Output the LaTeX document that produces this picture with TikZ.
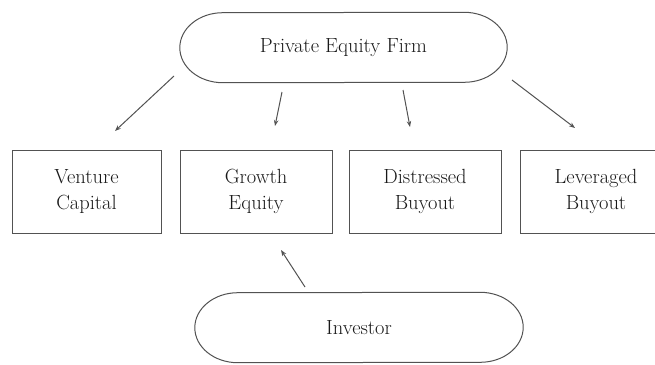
\documentclass[tikz,border=0pt]{standalone}
\usetikzlibrary{arrows.meta}
\begin{document}
\begin{tikzpicture}[x=1pt,y=-1pt,
 line/.style={draw=black!68, line width=1pt},
 lbl/.style={font=\fontsize{20.5}{26}\selectfont, text=black!90, inner sep=0pt, align=center},
 box/.style={lbl, line, minimum width=152pt, minimum height=83pt},
 pill/.style={lbl, minimum width=328pt, minimum height=70pt},
 arr/.style={line, -{Stealth[length=6pt,width=4.5pt]}}]
\clip (0,0) rectangle (655,364);
\node[pill, minimum width=327pt] (pe) at (343.5,47.5) {Private Equity Firm};
\draw[line] ([xshift=-43pt]pe.north east) arc[start angle=-90, end angle=90, x radius=43, y radius=35]
  -- ([xshift=43pt]pe.south west) arc[start angle=90, end angle=270, x radius=43, y radius=35] -- cycle;
\node[box, minimum width=149pt] (vc) at (86.5,191.5) {Venture\\Capital};
\node[box] (ge) at (256,191.5) {Growth\\Equity};
\node[box] (db) at (425,191.5) {Distressed\\Buyout};
\node[box] (lb) at (596,191.5) {Leveraged\\Buyout};
\node[pill] (inv) at (359,327.5) {Investor};
\draw[line] ([xshift=-43pt]inv.north east) arc[start angle=-90, end angle=90, x radius=43, y radius=35]
  -- ([xshift=43pt]inv.south west) arc[start angle=90, end angle=270, x radius=43, y radius=35] -- cycle;
\coordinate (a1s) at (174,76); \coordinate (a1e) at (115,131);
\coordinate (a2s) at (282,92); \coordinate (a2e) at (275,126);
\coordinate (a3s) at (403,90); \coordinate (a3e) at (410,127);
\coordinate (a4s) at (512,80); \coordinate (a4e) at (575,128);
\coordinate (a5s) at (305,287); \coordinate (a5e) at (281,250);
\draw[arr] (a1s) -- (a1e);
\draw[arr] (a2s) -- (a2e);
\draw[arr] (a3s) -- (a3e);
\draw[arr] (a4s) -- (a4e);
\draw[arr] (a5s) -- (a5e);
\end{tikzpicture}
\end{document}
